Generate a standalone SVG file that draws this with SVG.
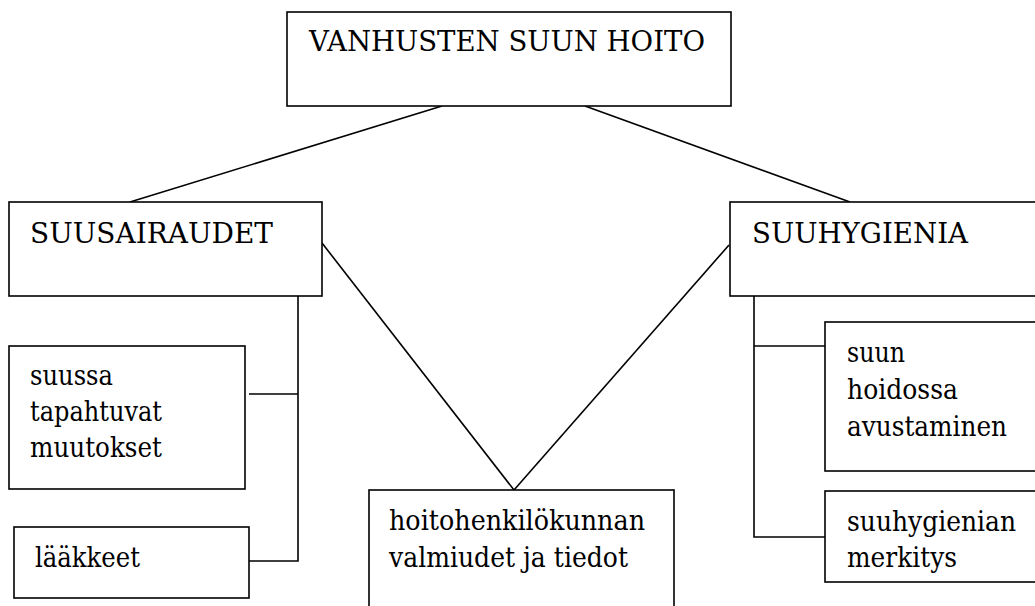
<svg xmlns="http://www.w3.org/2000/svg" width="1035" height="606" viewBox="0 0 1035 606">
<style>
.box{fill:#fff;stroke:#000;stroke-width:1.6}
.ln{fill:none;stroke:#000;stroke-width:1.6}
text{font-family:'DejaVu Serif','Liberation Serif',serif;font-size:28px;fill:#000}
.cap{font-size:28px}
</style>
<rect width="1035" height="606" fill="#fff"/>
<g id="connectors">
<line class="ln" x1="442" y1="106" x2="130" y2="202"/>
<line class="ln" x1="585" y1="106" x2="850" y2="202"/>
<line class="ln" x1="322" y1="243" x2="514" y2="490"/>
<line class="ln" x1="514" y1="490" x2="729" y2="245"/>
<polyline class="ln" points="298,296 298,561 249,561"/>
<line class="ln" x1="249" y1="394" x2="298" y2="394"/>
<polyline class="ln" points="754,296 754,537 825,537"/>
<line class="ln" x1="754" y1="346" x2="825" y2="346"/>
</g>
<g id="top">
<rect class="box" x="287" y="12" width="444" height="94"/>
<text class="cap" x="309" y="51" textLength="396" lengthAdjust="spacingAndGlyphs">VANHUSTEN SUUN HOITO</text>
</g>
<g id="suusairaudet">
<rect class="box" x="9" y="202" width="313" height="94"/>
<text class="cap" x="30" y="243" textLength="243" lengthAdjust="spacingAndGlyphs">SUUSAIRAUDET</text>
</g>
<g id="suuhygienia">
<rect class="box" x="730" y="202" width="320" height="94"/>
<text class="cap" x="752" y="243" textLength="216" lengthAdjust="spacingAndGlyphs">SUUHYGIENIA</text>
</g>
<g id="suussa">
<rect class="box" x="9" y="346" width="236" height="143"/>
<text x="30" y="385" textLength="83" lengthAdjust="spacingAndGlyphs">suussa</text>
<text x="30" y="421" textLength="132" lengthAdjust="spacingAndGlyphs">tapahtuvat</text>
<text x="30" y="457" textLength="132" lengthAdjust="spacingAndGlyphs">muutokset</text>
</g>
<g id="laakkeet">
<rect class="box" x="14" y="527" width="235" height="71"/>
<text x="35" y="567" textLength="105" lengthAdjust="spacingAndGlyphs">lääkkeet</text>
</g>
<g id="hoitohenkilokunnan">
<rect class="box" x="369" y="490" width="305" height="130"/>
<text x="389" y="530" textLength="256" lengthAdjust="spacingAndGlyphs">hoitohenkilökunnan</text>
<text x="389" y="567" textLength="239" lengthAdjust="spacingAndGlyphs">valmiudet ja tiedot</text>
</g>
<g id="suun">
<rect class="box" x="825" y="322" width="220" height="149"/>
<text x="847" y="362" textLength="58" lengthAdjust="spacingAndGlyphs">suun</text>
<text x="847" y="399" textLength="111" lengthAdjust="spacingAndGlyphs">hoidossa</text>
<text x="847" y="436" textLength="160" lengthAdjust="spacingAndGlyphs">avustaminen</text>
</g>
<g id="suuhygienian">
<rect class="box" x="825" y="491" width="220" height="91"/>
<text x="847" y="531" textLength="169" lengthAdjust="spacingAndGlyphs">suuhygienian</text>
<text x="847" y="567" textLength="110" lengthAdjust="spacingAndGlyphs">merkitys</text>
</g>
</svg>
